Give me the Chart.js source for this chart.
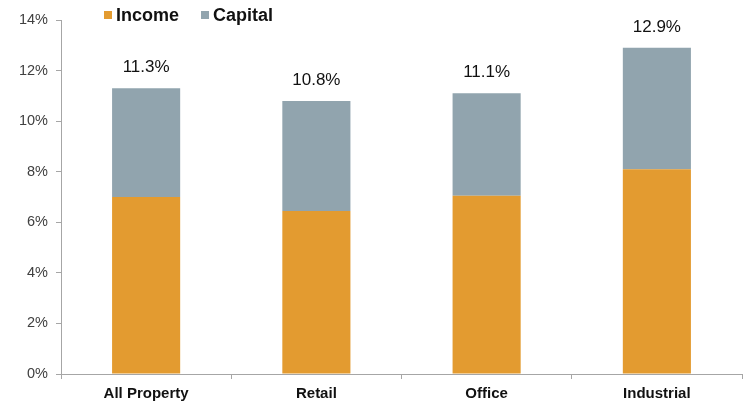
<!DOCTYPE html>
<html>
<head>
<meta charset="utf-8">
<script src="https://cdn.jsdelivr.net/npm/chart.js@4"></script>
<style>
  html, body { margin: 0; padding: 0; background: #fff; }
  #wrap { width: 744px; height: 402px; }
</style>
</head>
<body>
<div id="wrap"><canvas id="chart" width="744" height="402"></canvas></div>
<script>
const categories = ['All Property', 'Retail', 'Office', 'Industrial'];
const income = [7.0, 6.45, 7.05, 8.1];
const capital = [4.3, 4.35, 4.05, 4.8];
const yTicks = [0, 2, 4, 6, 8, 10, 12, 14];

const FONT = '"Liberation Sans", Arial, sans-serif';
const AXIS_GREY = '#a6a6a6';

// total return printed above each stack
const totalLabels = {
  id: 'totalLabels',
  afterDatasetsDraw(chart) {
    const ctx = chart.ctx;
    const yScale = chart.scales.y;
    const meta = chart.getDatasetMeta(1);
    ctx.save();
    ctx.font = '17px ' + FONT;
    ctx.fillStyle = '#111';
    ctx.textAlign = 'center';
    ctx.textBaseline = 'middle';
    categories.forEach((c, i) => {
      const total = income[i] + capital[i];
      const x = meta.data[i].x;
      const y = yScale.getPixelForValue(total) - 21;
      ctx.fillText(total.toFixed(1) + '%', x, y);
    });
    ctx.restore();
  }
};

// small legend in the top-left corner
const cornerLegend = {
  id: 'cornerLegend',
  afterDraw(chart) {
    const ctx = chart.ctx;
    ctx.save();
    ctx.font = 'bold 18px ' + FONT;
    ctx.textBaseline = 'alphabetic';
    let x = 104;
    chart.data.datasets.forEach((ds) => {
      ctx.fillStyle = ds.backgroundColor;
      ctx.fillRect(x, 11, 8, 8);
      ctx.fillStyle = '#111';
      ctx.fillText(ds.label, x + 12, 20.5);
      x += 12 + ctx.measureText(ds.label).width + 22;
    });
    ctx.restore();
  }
};

const ctx = document.getElementById('chart').getContext('2d');
new Chart(ctx, {
  type: 'bar',
  data: {
    labels: categories,
    datasets: [
      {
        label: 'Income',
        data: income,
        backgroundColor: '#e39b30',
        categoryPercentage: 0.8,
        barPercentage: 0.5,
      },
      {
        label: 'Capital',
        data: capital,
        backgroundColor: '#91a4ae',
        categoryPercentage: 0.8,
        barPercentage: 0.5,
      },
    ],
  },
  options: {
    responsive: false,
    animation: false,
    layout: { padding: { top: 20, right: 2, left: 0, bottom: 0 } },
    plugins: {
      legend: { display: false },
      tooltip: { enabled: false },
    },
    scales: {
      x: {
        stacked: true,
        afterFit: (axis) => { axis.height = 28; },
        border: { color: AXIS_GREY, width: 1 },
        grid: { offset: true, drawOnChartArea: false, tickLength: 5, color: AXIS_GREY },
        ticks: {
          padding: 6,
          color: '#111',
          font: { family: FONT, size: 15, weight: 'bold' },
        },
      },
      y: {
        stacked: true,
        min: 0,
        max: 14,
        afterFit: (axis) => { axis.width = 61; },
        afterBuildTicks: (axis) => { axis.ticks = yTicks.map((v) => ({ value: v })); },
        border: { color: AXIS_GREY, width: 1 },
        grid: { drawOnChartArea: false, tickLength: 5, color: AXIS_GREY },
        ticks: {
          padding: 8,
          color: '#404040',
          font: { family: FONT, size: 14.5 },
          callback: (v) => v + '%',
        },
      },
    },
  },
  plugins: [totalLabels, cornerLegend],
});
</script>
</body>
</html>
